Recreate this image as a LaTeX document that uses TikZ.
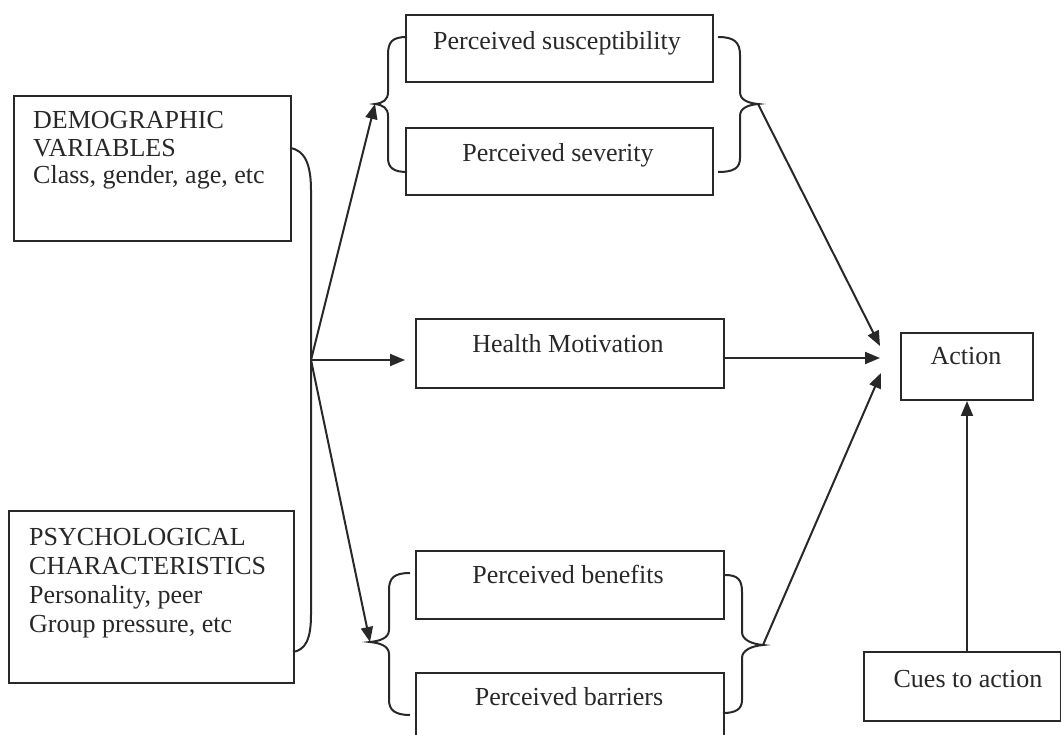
\documentclass[tikz,border=0pt]{standalone}
\usepackage{fontspec}
\setmainfont{Liberation Serif}
\usetikzlibrary{arrows.meta}
\definecolor{ink}{RGB}{40,40,40}
\begin{document}
\begin{tikzpicture}[x=1pt,y=-1pt,
  box/.style={draw=ink, line width=2pt, inner sep=0pt, anchor=north west},
  txt/.style={text=ink, font=\fontsize{26}{29}\selectfont, anchor=base, inner sep=0pt},
  ltxt/.style={txt, anchor=base west},
  arr/.style={draw=ink, line width=2pt, -{Triangle[length=15pt,width=12pt]}},
  brace/.style={draw=ink, line width=2pt}]
\useasboundingbox (0,0) rectangle (1061,735);

% boxes
\node[box, minimum width=277pt, minimum height=145pt] (dem) at (13,95) {};
\node[box, minimum width=285pt, minimum height=172pt] (psy) at (8,510) {};
\node[box, minimum width=307pt, minimum height=67pt] (sus) at (405,14) {};
\node[box, minimum width=307pt, minimum height=67pt] (sev) at (405,127) {};
\node[box, minimum width=308pt, minimum height=69pt] (hm) at (415,318) {};
\node[box, minimum width=308pt, minimum height=68pt] (ben) at (415,550) {};
\node[box, minimum width=308pt, minimum height=75pt] (bar) at (415,672) {};
\node[box, minimum width=132pt, minimum height=67pt] (act) at (900,332) {};
\node[box, minimum width=197pt, minimum height=69pt] (cue) at (863,651) {};

% texts
\node[ltxt] (tdem) at (33,129) {\parbox[t]{250pt}{\fontsize{26}{27.5}\selectfont DEMOGRAPHIC\\VARIABLES\\Class, gender, age, etc}};
\node[ltxt] (tpsy) at (29,545) {\parbox[t]{260pt}{\fontsize{26}{29}\selectfont PSYCHOLOGICAL\\CHARACTERISTICS\\Personality, peer\\Group pressure, etc}};
\node[txt] (tsus) at (557,50) {Perceived susceptibility};
\node[txt] (tsev) at (558,162) {Perceived severity};
\node[txt] (thm) at (568,353) {Health Motivation};
\node[txt] (tben) at (568,583) {Perceived benefits};
\node[txt] (tbar) at (569,705) {Perceived barriers};
\node[txt] (tact) at (966,365) {Action};
\node[txt] (tcue) at (968,687) {Cues to action};

% key points
\coordinate (hub) at (311,360);
\coordinate (tlb) at (375,104);
\coordinate (trb) at (758,104);
\coordinate (blb) at (370,642);
\coordinate (brb) at (763,645);
\coordinate (a1) at (880,346);
\coordinate (a2) at (880,358);
\coordinate (a3) at (881,373);

% braces
\draw[brace] (290,148) .. controls (305,150) and (311,165) .. (311,190)
  -- (311,615) .. controls (311,640) and (305,650) .. (293,652);
\draw[brace] (407,37) .. controls (392,37) and (388,42) .. (388,55)
  -- (388,92) .. controls (388,100) and (383,103) .. (tlb)
  .. controls (383,105) and (388,108) .. (388,116)
  -- (388,158) .. controls (388,168) and (394,172) .. (407,172);
\draw[brace] (718,37) .. controls (734,37) and (740,42) .. (740,55)
  -- (740,92) .. controls (740,100) and (748,103) .. (trb)
  .. controls (748,105) and (740,108) .. (740,116)
  -- (740,158) .. controls (740,168) and (734,172) .. (718,172);
\draw[brace] (410,573) .. controls (394,573) and (389,578) .. (389,590)
  -- (389,630) .. controls (389,638) and (380,641) .. (blb)
  .. controls (380,643) and (389,646) .. (389,654)
  -- (389,700) .. controls (389,710) and (395,715) .. (410,715);
\draw[brace] (725,575) .. controls (738,575) and (742,580) .. (742,592)
  -- (742,632) .. controls (742,640) and (752,644) .. (brb)
  .. controls (752,646) and (742,650) .. (742,658)
  -- (742,700) .. controls (742,709) and (736,713) .. (723,713);

% arrows
\draw[arr] (hub) -- (tlb);
\draw[arr, shorten >=10pt] (hub) -- (hm.west |- hub);
\draw[arr] (hub) -- (blb);
\draw[arr] (trb) -- (a1);
\draw[arr] (hm.east |- a2) -- (a2);
\draw[arr] (brb) -- (a3);
\draw[arr] (cue.north -| act.south) -- (act.south);
\end{tikzpicture}
\end{document}
